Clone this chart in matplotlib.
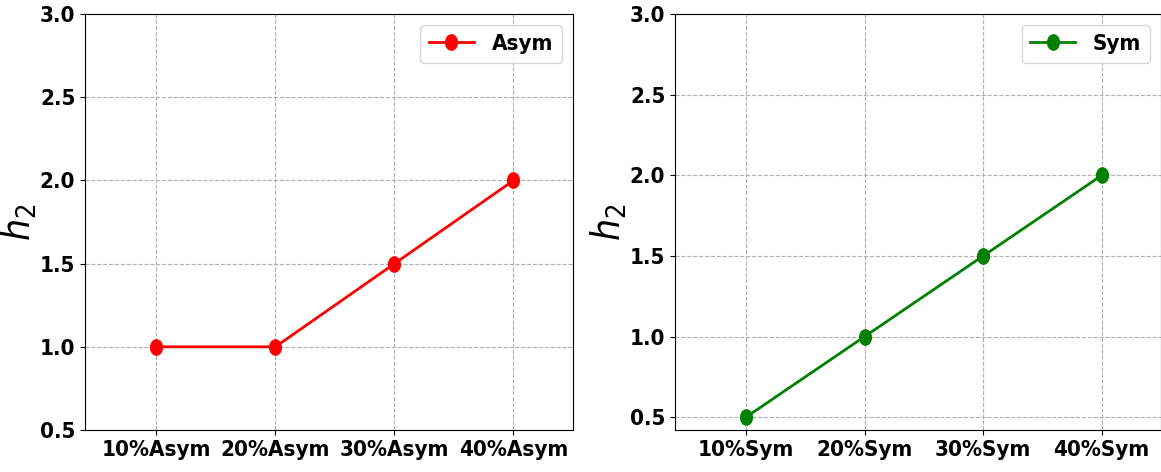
import matplotlib
matplotlib.use('Agg')
import matplotlib.pyplot as plt
from matplotlib.path import Path
from matplotlib.transforms import Affine2D

# 数据
asym_labels = ['10%Asym', '20%Asym', '30%Asym', '40%Asym']
asym_h2 = [1.0, 1.0, 1.5, 2.0]
sym_labels = ['10%Sym', '20%Sym', '30%Sym', '40%Sym']
sym_h2 = [0.5, 1.0, 1.5, 2.0]

# 原图被横向压缩，使用窄体字和椭圆标记
plt.rcParams['font.family'] = ['DejaVu Sans']
plt.rcParams['font.stretch'] = 'condensed'
ellipse = Path.unit_circle().transformed(Affine2D().scale(0.77, 1.0))

fig = plt.figure(figsize=(11.61, 4.72), dpi=100)
ax1 = fig.add_axes([0.0732, 0.089, 0.4203, 0.881])
ax2 = fig.add_axes([0.5814, 0.089, 0.4186, 0.881])


def draw(ax, labels, values, color, name, ylim):
    x = list(range(len(labels)))
    ax.plot(x, values, color=color, marker=ellipse, markersize=11, linewidth=2, label=name)
    ax.set_xticks(x)
    ax.set_xticklabels(labels, fontsize=16, fontweight='bold')
    ax.set_xlim(-0.6, 3.5)
    ax.set_ylim(*ylim)
    yt = [0.5, 1.0, 1.5, 2.0, 2.5, 3.0]
    ax.set_yticks(yt)
    ax.set_yticklabels([f'{v:.1f}' for v in yt], fontsize=16, fontweight='bold')
    ax.set_ylabel('$h_2$', fontsize=28, fontweight='normal')
    ax.yaxis.set_label_coords(-0.095, 0.5)
    ax.grid(True, linestyle='--', color='#b0b0b0')
    ax.legend(loc='upper right', prop={'size': 16, 'weight': 'bold', 'stretch': 'condensed'},
              handlelength=2.0)


draw(ax1, asym_labels, asym_h2, 'red', 'Asym', (0.5, 3.0))
draw(ax2, sym_labels, sym_h2, 'green', 'Sym', (0.42, 3.0))

fig.savefig('out.png', dpi=100)
